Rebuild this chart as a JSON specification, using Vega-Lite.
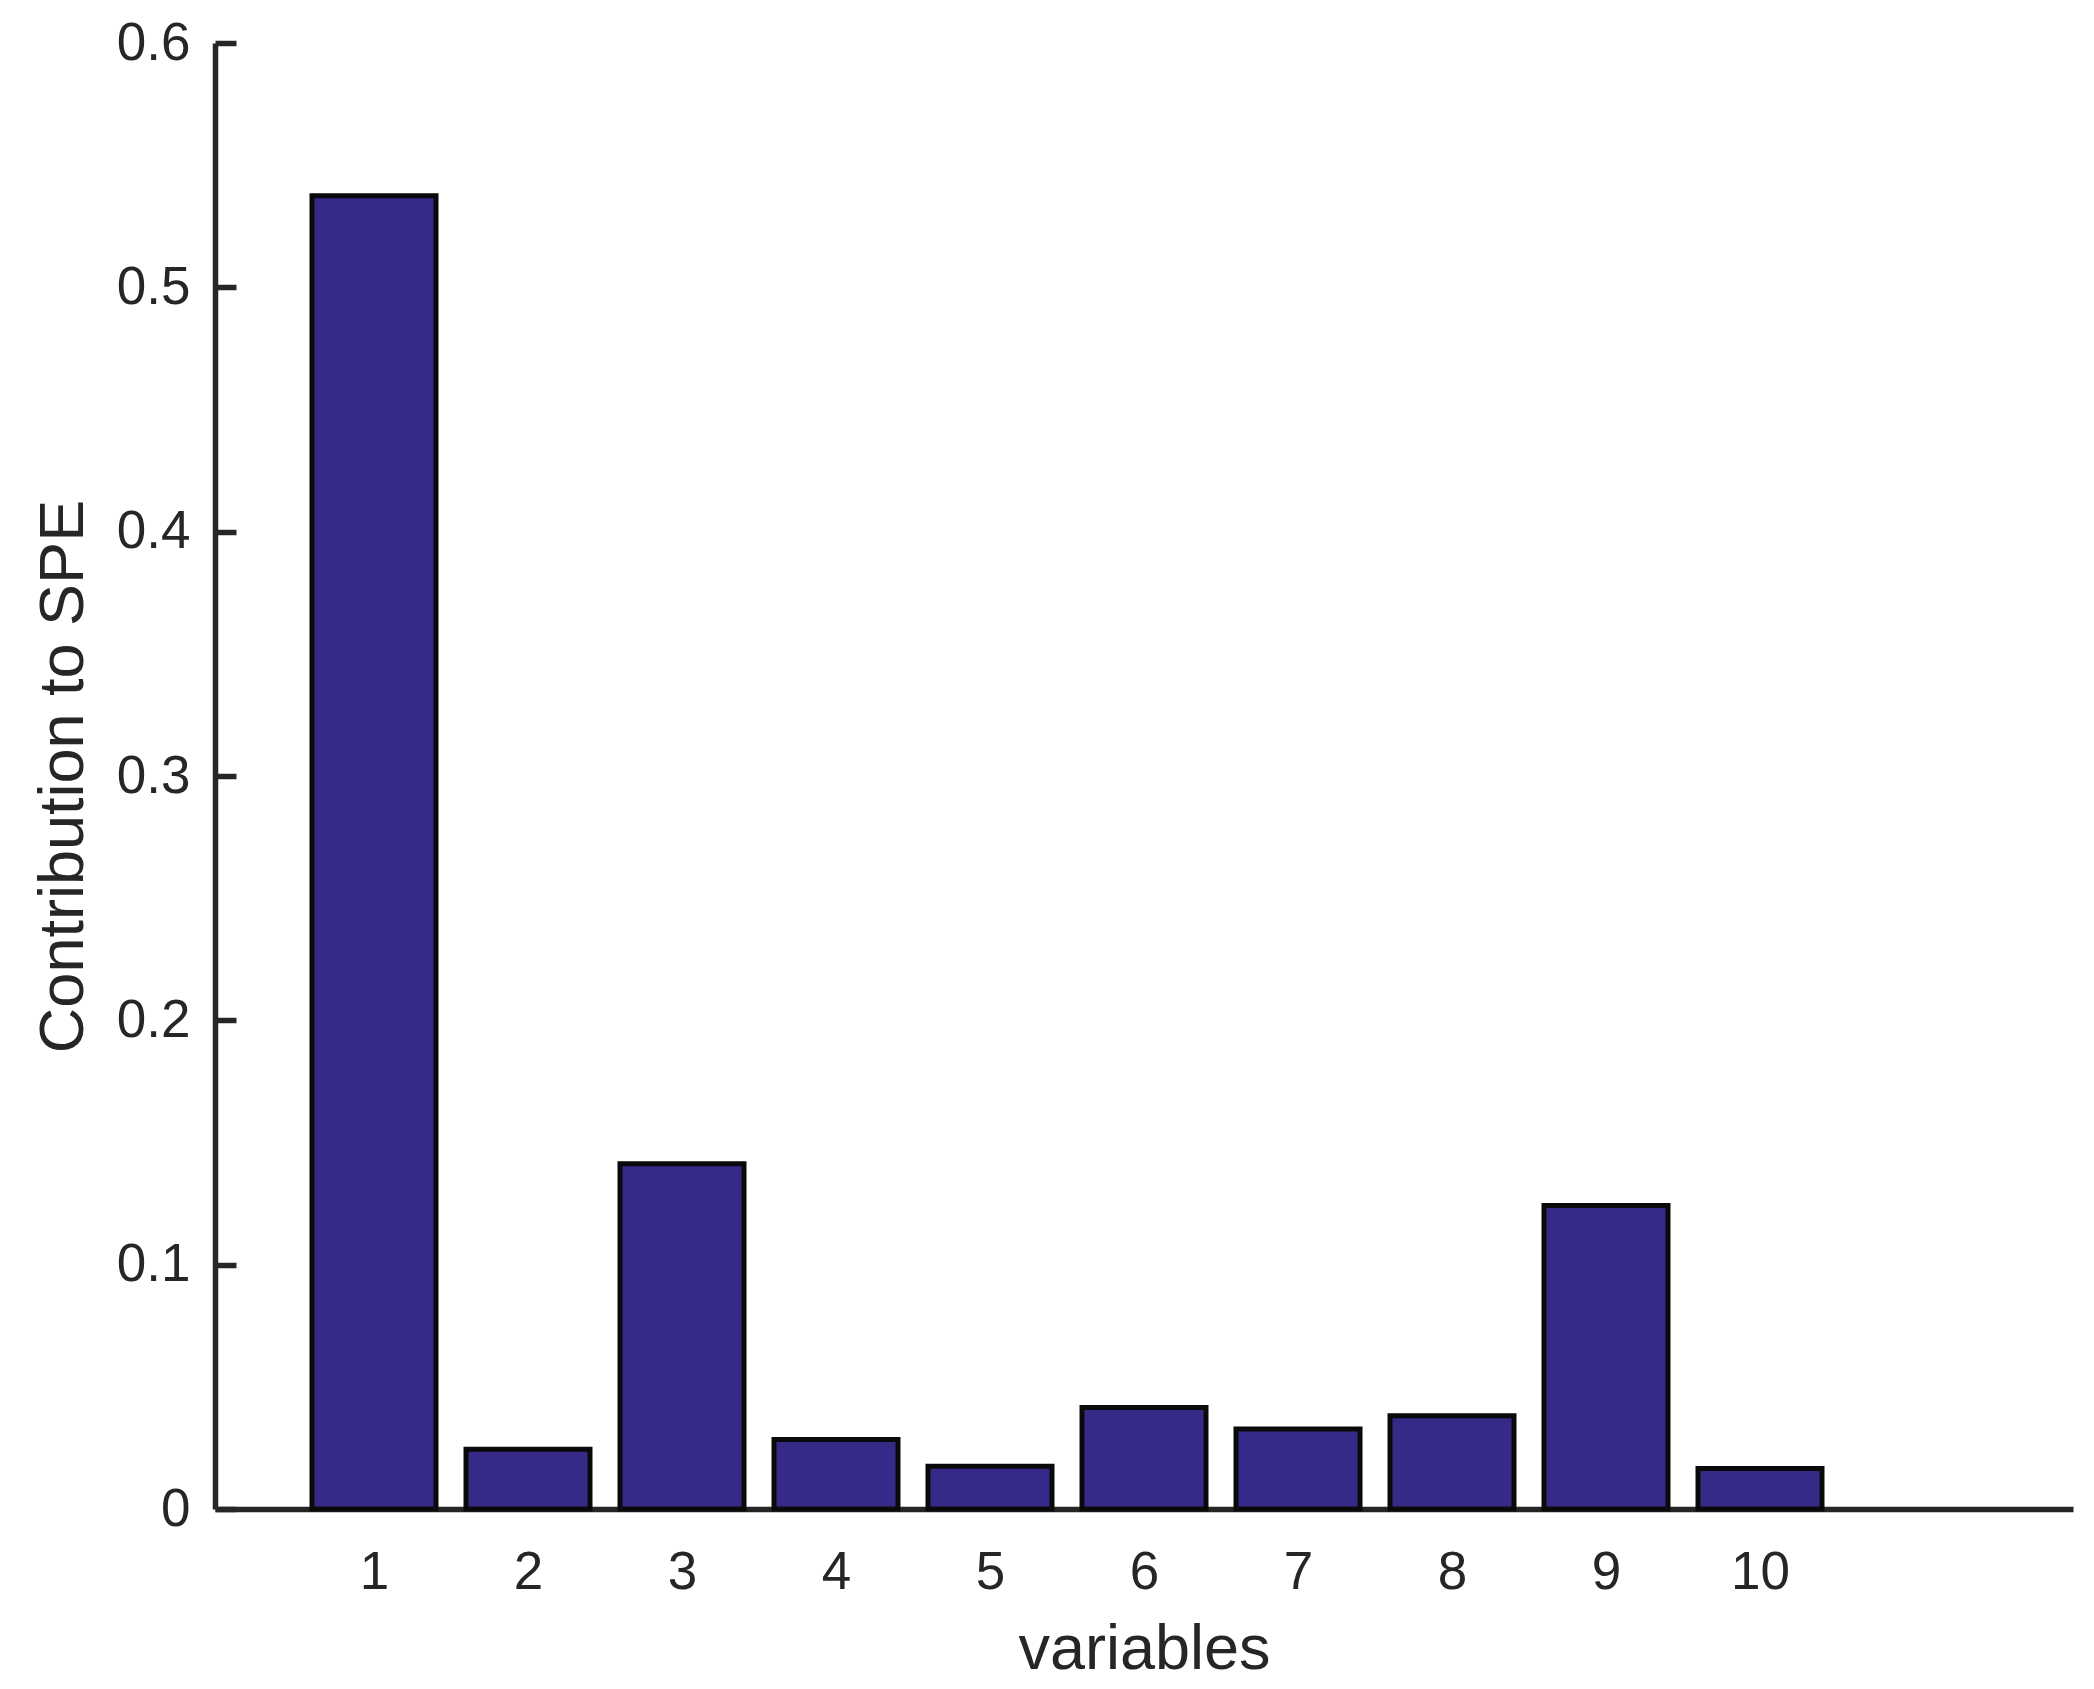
{
  "$schema": "https://vega.github.io/schema/vega-lite/v6.json",
  "width": 1858,
  "height": 1466,
  "autosize": "none",
  "padding": {"left": 215, "top": 43, "right": 21, "bottom": 180},
  "background": "white",
  "config": {
    "view": {"stroke": null},
    "font": "Liberation Sans",
    "axis": {
      "grid": false,
      "domainColor": "#262626",
      "domainWidth": 5.5,
      "tickColor": "#262626",
      "tickWidth": 5.5,
      "labelColor": "#262626",
      "titleColor": "#262626",
      "labelFont": "Liberation Sans",
      "titleFont": "Liberation Sans",
      "labelFontSize": 53,
      "titleFontSize": 63,
      "titleFontWeight": "normal",
      "zindex": 1
    }
  },
  "data": {
    "values": [
      {"variable": 1, "contribution": 0.5375},
      {"variable": 2, "contribution": 0.0245},
      {"variable": 3, "contribution": 0.1413},
      {"variable": 4, "contribution": 0.0284},
      {"variable": 5, "contribution": 0.0175},
      {"variable": 6, "contribution": 0.0415},
      {"variable": 7, "contribution": 0.0327},
      {"variable": 8, "contribution": 0.0382},
      {"variable": 9, "contribution": 0.1242},
      {"variable": 10, "contribution": 0.0166}
    ]
  },
  "mark": {"type": "bar", "width": 124, "fill": "#352a87", "stroke": "#0a0a0a", "strokeWidth": 5, "orient": "vertical"},
  "encoding": {
    "x": {
      "field": "variable",
      "type": "quantitative",
      "scale": {"domain": [0, 12], "nice": false, "zero": false},
      "axis": {
        "title": "variables",
        "values": [1, 2, 3, 4, 5, 6, 7, 8, 9, 10],
        "ticks": false,
        "tickSize": 0,
        "labelPadding": 37,
        "labelFlush": false,
        "labelOverlap": false,
        "titleX": 929,
        "titleY": 159,
        "titleBaseline": "alphabetic",
        "titleAlign": "center"
      }
    },
    "y": {
      "field": "contribution",
      "type": "quantitative",
      "scale": {"domain": [0, 0.6], "nice": false},
      "axis": {
        "title": "Contribution to SPE",
        "values": [0, 0.1, 0.2, 0.3, 0.4, 0.5, 0.6],
        "format": "~g",
        "tickSize": -21,
        "labelPadding": 46,
        "labelFlush": false,
        "labelOverlap": false,
        "titleX": -133,
        "titleY": 733,
        "titleAngle": -90,
        "titleBaseline": "alphabetic",
        "titleAlign": "center"
      }
    }
  }
}
